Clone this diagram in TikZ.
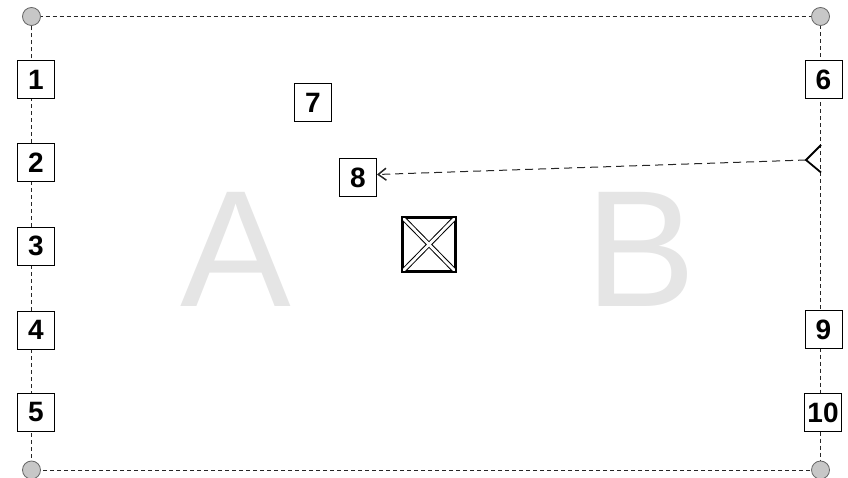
\documentclass[tikz,border=0pt]{standalone}
\usepackage{fontspec}
\setmainfont{Liberation Sans}
\usetikzlibrary{arrows.meta}
\begin{document}
\begin{tikzpicture}[x=1pt,y=-1pt,
  numbox/.style={draw=black, line width=0.9pt, fill=white, minimum width=37pt, minimum height=38pt, inner sep=1pt, font=\fontsize{28}{28}\selectfont\bfseries},
  cornerdot/.style={circle, draw=black!60, fill=black!22, line width=0.8pt, minimum size=18pt, inner sep=0pt},
  frameline/.style={draw=black!85, line width=0.9pt, dash pattern=on 4pt off 3pt},
  bigletter/.style={text=black!10, font=\fontsize{166}{166}\selectfont, inner sep=0pt, anchor=base},
  linkline/.style={draw=black!85, line width=1pt, dash pattern=on 8pt off 5pt},
  tailmark/.style={draw=black, line width=1.8pt, line join=miter}]
\useasboundingbox (0,0) rectangle (848,478);
% big background letters
\node[bigletter] (la) at (236,306) {A};
\node[bigletter] (lb) at (641,306) {B};
% corner points
\coordinate (tl) at (31.5,16.5);
\coordinate (tr) at (820.5,16.5);
\coordinate (bl) at (31.5,470);
\coordinate (br) at (820.5,470);
\draw[frameline] (tl) -- (tr) -- (br) -- (bl) -- cycle;
\node[cornerdot] (ctl) at (tl) {};
\node[cornerdot] (ctr) at (tr) {};
\node[cornerdot] (cbl) at (bl) {};
\node[cornerdot] (cbr) at (br) {};
% left boxes
\node[numbox] (n1) at (36,79.5) {1};
\node[numbox] (n2) at (36,162.5) {2};
\node[numbox] (n3) at (36,246) {3};
\node[numbox] (n4) at (36,330) {4};
\node[numbox] (n5) at (36,412.5) {5};
% right boxes
\node[numbox] (n6) at (823.5,79.5) {6};
\node[numbox] (n9) at (823.5,329.5) {9};
\node[numbox] (n10) at (823,412.5) {10};
% inner boxes
\node[numbox] (n7) at (313,102.5) {7};
\node[numbox] (n8) at (358,177.5) {8};
% crossed box
\node[draw=black, line width=1.6pt, fill=white, minimum width=52pt, minimum height=53pt, inner sep=0pt] (xb) at (429,244.5) {};
\begin{scope}
  \clip (xb.north west) rectangle (xb.south east);
  \draw[black, line width=4.8pt] (xb.north west) -- (xb.south east) (xb.north east) -- (xb.south west);
  \draw[white, line width=2.8pt] (xb.north west) -- (xb.south east) (xb.north east) -- (xb.south west);
\end{scope}
\draw[black, line width=1.6pt] (xb.north west) rectangle (xb.south east);
% connector
\coordinate (tail) at (806,160);
\coordinate (tailtop) at (821,145);
\coordinate (tailbot) at (821,172.5);
\draw[linkline, -{Straight Barb[length=8pt,width=12pt,line width=1.5pt]}] (tail) -- ([yshift=3pt]n8.east);
\draw[tailmark] (tailtop) -- (tail) -- (tailbot);
\end{tikzpicture}
\end{document}
